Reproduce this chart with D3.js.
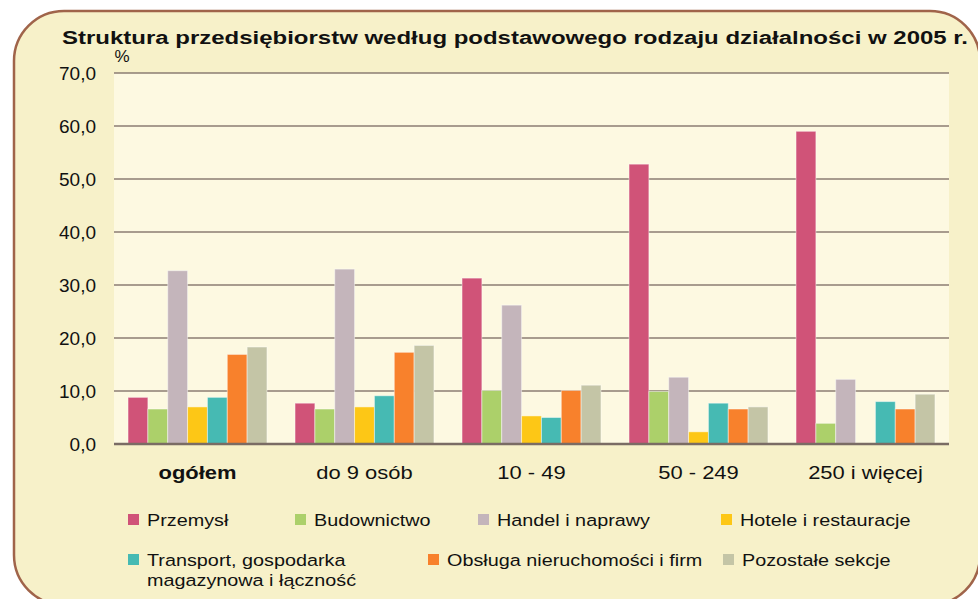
<!DOCTYPE html>
<html>
<head>
<meta charset="utf-8">
<script src="https://cdn.jsdelivr.net/npm/d3@7"></script>
<style>
  body { margin: 0; background: #ffffff; }
  text { font-family: "Liberation Sans", Arial, sans-serif; fill: #111; }
</style>
</head>
<body>
<svg id="chart"></svg>
<script>
// categories (enterprise size classes)
const groups = ['ogółem', 'do 9 osób', '10 - 49', '50 - 249', '250 i więcej'];

// sections
const sections = ['Przemysł', 'Budownictwo', 'Handel i naprawy', 'Hotele i restauracje',
    'Transport, gospodarka magazynowa i łączność', 'Obsługa nieruchomości i firm', 'Pozostałe sekcje'];

// values per section, in order of groups (%)
const przemysl = [8.8, 7.7, 31.3, 52.8, 59.0];
const budownictwo = [6.6, 6.6, 10.1, 9.9, 3.9];
const handel = [32.7, 33.0, 26.2, 12.6, 12.2];
const hotele = [7.0, 7.0, 5.3, 2.3, 0];
const transport = [8.8, 9.1, 5.0, 7.7, 8.0];
const obsluga = [16.9, 17.3, 10.1, 6.6, 6.6];
const pozostale = [18.3, 18.6, 11.1, 7.0, 9.4];

const yTicks = [0, 10, 20, 30, 40, 50, 60, 70];

const series = [przemysl, budownictwo, handel, hotele, transport, obsluga, pozostale];
const colors = ['#d05378', '#acd06a', '#c4b5bb', '#fdc716', '#46bab3', '#f8812c', '#c4c5a6'];

const width = 978, height = 599;
const plot = { left: 114, right: 949, top: 73, bottom: 444 };
// the original picture is a bit stretched sideways, so texts are widened
const stretch = 1.2;

const svg = d3.select('#chart')
    .attr('width', width)
    .attr('height', height);

// outer rounded frame
svg.append('rect')
    .attr('x', 14).attr('y', 11)
    .attr('width', 966).attr('height', 594)
    .attr('rx', 50).attr('ry', 50)
    .attr('fill', '#f7f1c9')
    .attr('stroke', '#a0644a')
    .attr('stroke-width', 2.5);

// plot background
svg.append('rect')
    .attr('x', plot.left).attr('y', plot.top)
    .attr('width', plot.right - plot.left)
    .attr('height', plot.bottom - plot.top)
    .attr('fill', '#fdf9e1');

const x0 = d3.scaleBand()
    .domain(groups)
    .range([plot.left, plot.right])
    .paddingInner(0.168)
    .paddingOuter(0.084);

const x1 = d3.scaleBand()
    .domain(d3.range(sections.length))
    .range([0, x0.bandwidth()]);

const y = d3.scaleLinear()
    .domain([0, 70])
    .range([plot.bottom, plot.top]);

// gridlines
svg.append('g')
    .selectAll('line')
    .data(yTicks.filter(d => d > 0))
    .join('line')
    .attr('x1', plot.left).attr('x2', plot.right)
    .attr('y1', d => y(d)).attr('y2', d => y(d))
    .attr('stroke', '#8b7d72')
    .attr('stroke-width', 1.6);

// y axis labels
const yAxis = d3.axisLeft(y)
    .tickValues(yTicks)
    .tickSize(0)
    .tickPadding(18)
    .tickFormat(d => d3.format('.1f')(d).replace('.', ','));

svg.append('g')
    .attr('transform', `translate(${plot.left},0)`)
    .call(yAxis)
    .call(g => g.select('.domain').remove())
    .selectAll('text')
    .attr('font-size', 19)
    .attr('fill', '#111');

svg.append('text')
    .attr('x', 122).attr('y', 62)
    .attr('text-anchor', 'middle')
    .attr('font-size', 17)
    .text('%');

// bars
const barG = svg.append('g')
    .selectAll('g')
    .data(groups)
    .join('g')
    .attr('transform', d => `translate(${x0(d)},0)`);

barG.selectAll('rect')
    .data((g, gi) => series.map((s, si) => ({ si: si, value: s[gi] })).filter(d => d.value > 0))
    .join('rect')
    .attr('x', d => x1(d.si))
    .attr('y', d => y(d.value))
    .attr('width', x1.bandwidth())
    .attr('height', d => y(0) - y(d.value))
    .attr('fill', d => colors[d.si])
    .attr('stroke', 'rgba(255,255,255,0.45)')
    .attr('stroke-width', 1);

// baseline
svg.append('line')
    .attr('x1', plot.left).attr('x2', plot.right)
    .attr('y1', y(0)).attr('y2', y(0))
    .attr('stroke', '#7a6c64')
    .attr('stroke-width', 2.5);

// category labels
svg.append('g')
    .selectAll('g')
    .data(groups)
    .join('g')
    .attr('transform', d => `translate(${x0(d) + x0.bandwidth() / 2},${plot.bottom + 35}) scale(${stretch + 0.02},1)`)
    .append('text')
    .attr('text-anchor', 'middle')
    .attr('font-size', 18)
    .attr('font-weight', d => d === 'ogółem' ? 'bold' : 'normal')
    .text(d => d);

// title
svg.append('text')
    .attr('x', 62).attr('y', 44)
    .attr('font-size', 18)
    .attr('font-weight', 'bold')
    .attr('textLength', 906)
    .attr('lengthAdjust', 'spacingAndGlyphs')
    .text('Struktura przedsiębiorstw  według podstawowego rodzaju działalności w 2005 r.');

// legend
const legendPos = [
    { x: 128, y: 520 }, { x: 295, y: 520 }, { x: 478, y: 520 }, { x: 721, y: 520 },
    { x: 128, y: 560 }, { x: 428, y: 560 }, { x: 723, y: 560 }
];
const legendLines = [
    ['Przemysł'], ['Budownictwo'], ['Handel i naprawy'], ['Hotele i restauracje'],
    ['Transport, gospodarka', 'magazynowa i łączność'], ['Obsługa nieruchomości i firm'], ['Pozostałe sekcje']
];

const legend = svg.append('g')
    .selectAll('g')
    .data(sections)
    .join('g')
    .attr('transform', (d, i) => `translate(${legendPos[i].x},${legendPos[i].y})`);

legend.append('rect')
    .attr('x', 0).attr('y', -6)
    .attr('width', 11).attr('height', 11)
    .attr('fill', (d, i) => colors[i]);

legend.append('g')
    .attr('transform', `translate(19,0) scale(${stretch},1)`)
    .append('text')
    .attr('y', 6)
    .attr('font-size', 16.5)
    .selectAll('tspan')
    .data((d, i) => legendLines[i])
    .join('tspan')
    .attr('x', 0)
    .attr('dy', (d, i) => i === 0 ? 0 : 20)
    .text(d => d);
</script>
</body>
</html>
